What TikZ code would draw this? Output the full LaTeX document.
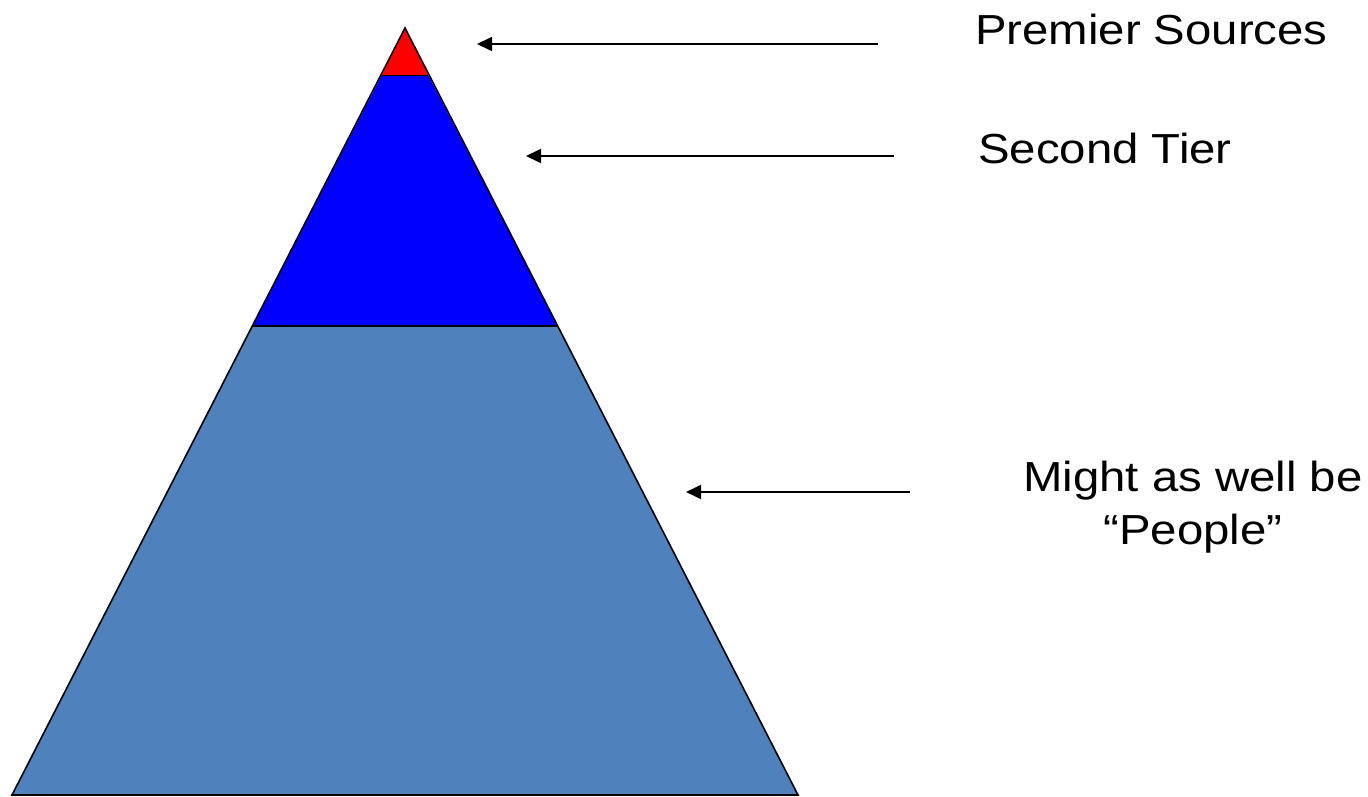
\documentclass[tikz,border=0pt]{standalone}
\usepackage{fontspec}
\setmainfont[FakeStretch=1.127]{Liberation Sans}
\usetikzlibrary{arrows.meta}
\definecolor{topred}{HTML}{FF0000}
\definecolor{midblue}{HTML}{0000FF}
\definecolor{lowblue}{HTML}{4F81BD}
\tikzset{
  tier/.style={draw=black, line width=1.6pt, line join=miter},
  pointer/.style={draw=black, line width=1.7pt, -{Triangle[length=15pt,width=14pt]}},
  lbl/.style={inner sep=0pt, font=\fontsize{42}{53}\selectfont, anchor=base west}
}
\begin{document}
\begin{tikzpicture}[x=1pt,y=-1pt]
\useasboundingbox (0,0) rectangle (1368,797);
% pyramid tiers
\coordinate (apex) at (405,28);
\coordinate (rl) at (381.6,75.5);
\coordinate (rr) at (428.4,75.5);
\coordinate (bl) at (252.5,326);
\coordinate (br) at (557.5,326);
\coordinate (gl) at (12,795);
\coordinate (gr) at (798,795);
\fill[lowblue] (bl) -- (br) -- (gr) -- (gl) -- cycle;
\fill[midblue] (rl) -- (rr) -- (br) -- (bl) -- cycle;
\fill[topred] (apex) -- (rr) -- (rl) -- cycle;
\draw[tier] (apex) -- (gr) -- (gl) -- cycle;
\draw[tier] (rl) -- (rr);
\draw[tier] (bl) -- (br);
% labels
\node[lbl] (premier) at (975,45) {Premier Sources};
\node[lbl] (second) at (978,164) {Second Tier};
\node[inner sep=0pt, font=\fontsize{42}{53}\selectfont, align=center, anchor=north] (people) at (1193,461) {Might as well be\\“People”};
% arrows
\coordinate (t1) at (878,44);
\coordinate (h1) at (477,44);
\coordinate (t2) at (894,156);
\coordinate (h2) at (526,156);
\coordinate (t3) at (910,492);
\coordinate (h3) at (686,492);
\draw[pointer] (t1) -- (h1);
\draw[pointer] (t2) -- (h2);
\draw[pointer] (t3) -- (h3);
\end{tikzpicture}
\end{document}
